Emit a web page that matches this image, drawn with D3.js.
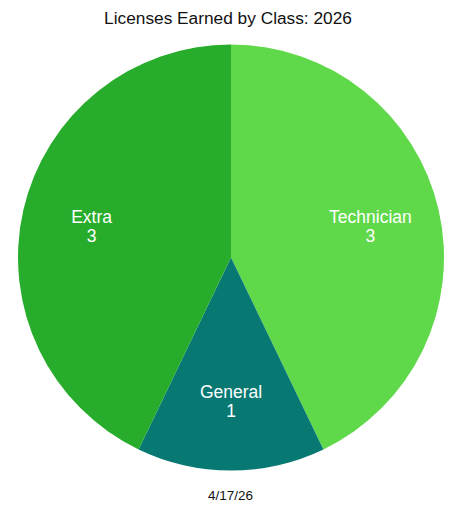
<!DOCTYPE html>
<html>
<head>
<meta charset="utf-8">
<script src="https://cdn.jsdelivr.net/npm/d3@7"></script>
<style>
  body { margin: 0; background: #fff; }
  svg { display: block; font-family: "Liberation Sans", Arial, Helvetica, sans-serif; }
</style>
</head>
<body>
<svg id="chart" width="453" height="506"></svg>
<script>
const classes = ['Technician', 'General', 'Extra'];
const counts = [3, 1, 3];
const sliceColors = ['#5fd84a', '#077872', '#27ad2b'];
const chartTitle = 'Licenses Earned by Class: 2026';
const dateLabel = '4/17/26';

const width = 453;
const height = 506;
const cx = 231;
const cy = 257.5;
const radius = 213;
const labelRadius = 143;

const svg = d3.select('#chart');

svg.append('text')
    .attr('x', 228)
    .attr('y', 24)
    .attr('text-anchor', 'middle')
    .attr('font-size', 17.3)
    .attr('fill', '#111')
    .text(chartTitle);

const data = classes.map((c, i) => ({label: c, value: counts[i], color: sliceColors[i]}));

const pie = d3.pie()
    .value(d => d.value)
    .sort(null);

const arc = d3.arc().innerRadius(0).outerRadius(radius);
const labelArc = d3.arc().innerRadius(labelRadius).outerRadius(labelRadius);

const root = svg.append('g')
    .attr('transform', `translate(${cx}, ${cy})`);

const slices = root.selectAll('.slice')
    .data(pie(data))
    .enter()
    .append('g')
    .attr('class', 'slice');

slices.append('path')
    .attr('d', arc)
    .attr('fill', d => d.data.color);

const labels = slices.append('text')
    .attr('transform', d => `translate(${labelArc.centroid(d)})`)
    .attr('text-anchor', 'middle')
    .attr('font-size', 17.5)
    .attr('fill', '#fff');

labels.append('tspan')
    .attr('x', 0)
    .attr('y', -3)
    .text(d => d.data.label);

labels.append('tspan')
    .attr('x', 0)
    .attr('y', 16.5)
    .text(d => d.data.value);

svg.append('text')
    .attr('x', 230.5)
    .attr('y', 500)
    .attr('text-anchor', 'middle')
    .attr('font-size', 13.5)
    .attr('fill', '#111')
    .text(dateLabel);
</script>
</body>
</html>
